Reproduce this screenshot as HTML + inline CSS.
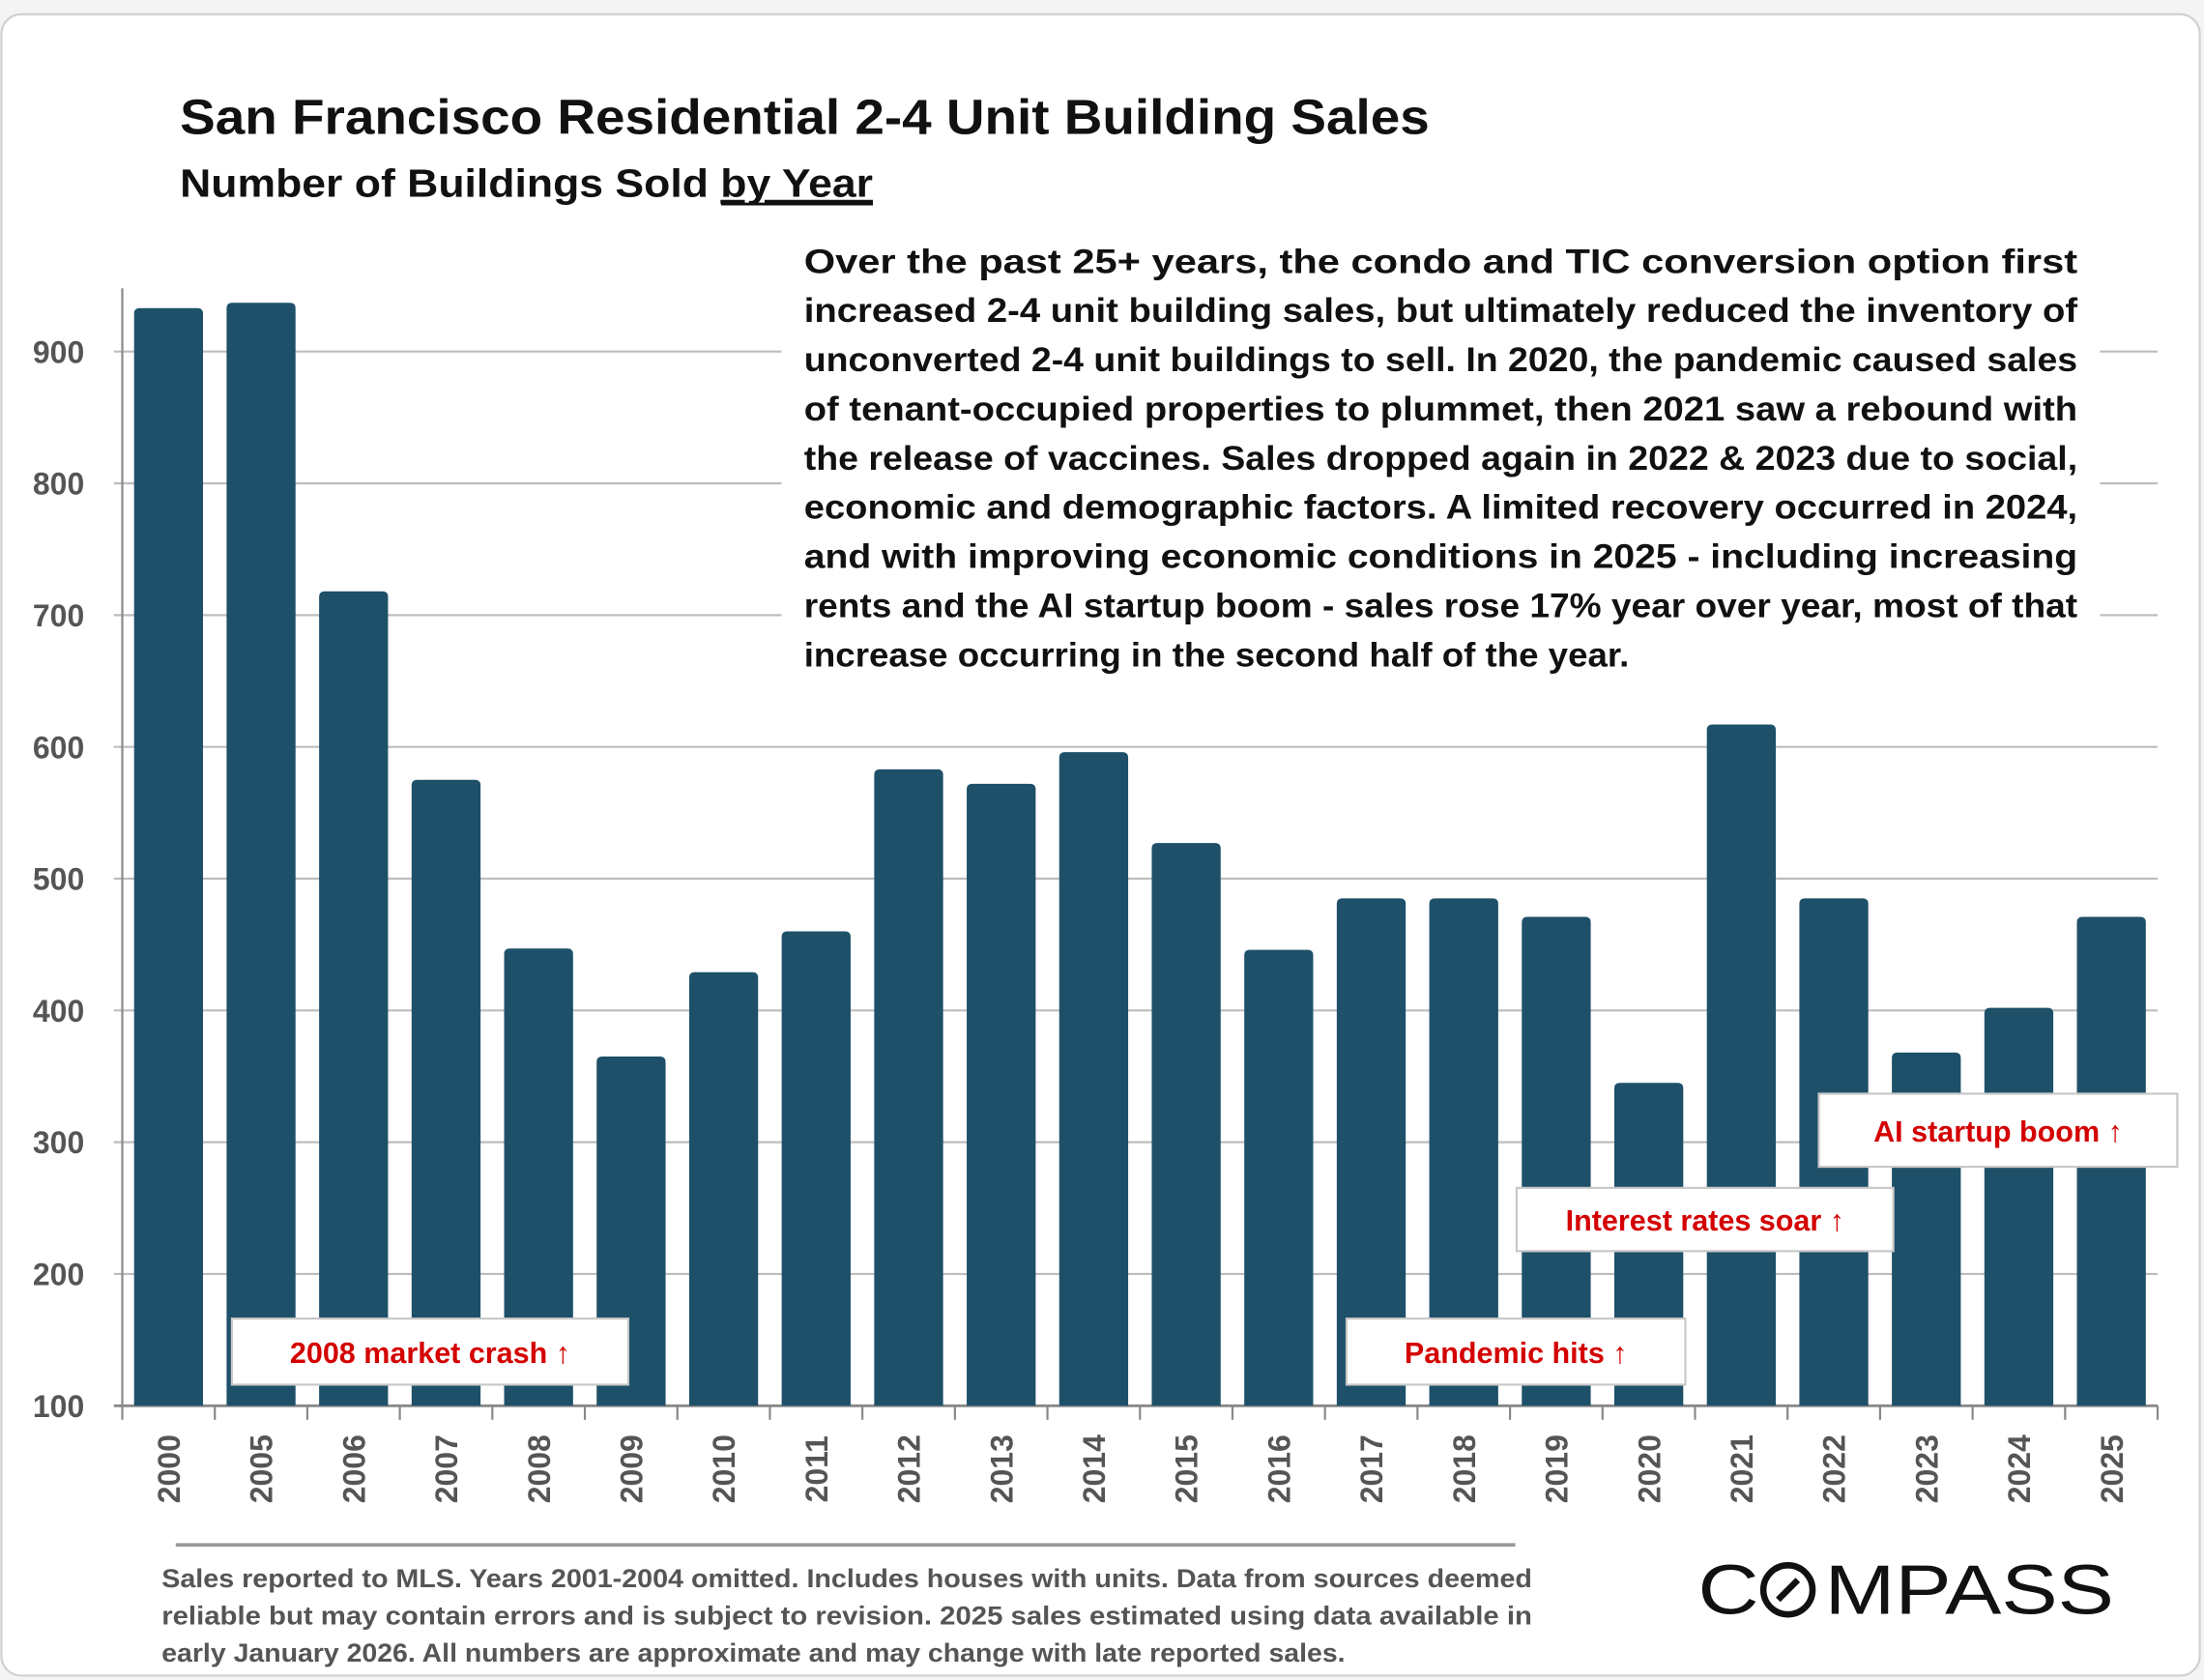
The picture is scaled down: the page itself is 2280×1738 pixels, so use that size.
<!DOCTYPE html>
<html><head><meta charset="utf-8"><style>
html,body{margin:0;padding:0;background:#f4f4f4;}
svg{display:block;}
text{font-family:"Liberation Sans",sans-serif;}
</style></head><body>
<svg id="chart" width="2280" height="1738" viewBox="0 0 1568 1195" xmlns="http://www.w3.org/2000/svg">
<rect x="1" y="10" width="1564" height="1182" rx="14" fill="#fff" stroke="#d0d0d0" stroke-width="1.5"/>
<text x="128" y="95" font-size="35" font-weight="bold" fill="#111" textLength="889" lengthAdjust="spacingAndGlyphs">San Francisco Residential 2-4 Unit Building Sales</text>
<text x="128" y="140" font-size="28" font-weight="bold" fill="#111" textLength="493" lengthAdjust="spacingAndGlyphs">Number of Buildings Sold <tspan text-decoration="underline">by Year</tspan></text>
<line x1="513" y1="145" x2="621" y2="145" stroke="#111" stroke-width="2"/>
<g id="grid"></g>
<g id="bars"></g>
<g id="axes"></g>
<rect x="556" y="168" width="938" height="312" fill="#fff"/>
<g id="desc" font-size="24" font-weight="bold" fill="#111"></g>
<g id="notes"></g>
<line x1="125" y1="1099" x2="1078" y2="1099" stroke="#999" stroke-width="2.5"/>
<g id="foot" font-size="18.5" font-weight="bold" fill="#555"></g>
<g>
<text x="1208" y="1148" font-size="50" fill="#111" textLength="296" lengthAdjust="spacingAndGlyphs">C<tspan fill="#fff">O</tspan>MPASS</text>
<circle cx="1272" cy="1131" r="17.5" fill="none" stroke="#111" stroke-width="4.5"/>
<line x1="1265" y1="1138" x2="1279" y2="1124" stroke="#111" stroke-width="4.5"/>
</g>
</svg>
<script>
const categories = ["2000","2005","2006","2007","2008","2009","2010","2011","2012","2013","2014","2015","2016","2017","2018","2019","2020","2021","2022","2023","2024","2025"];
const sales = [933,937,718,575,447,365,429,460,583,572,596,527,446,485,485,471,345,617,485,368,402,471];
const yTicks = [100,200,300,400,500,600,700,800,900];
const descLines = ["Over the past 25+ years, the condo and TIC conversion option first","increased 2-4 unit building sales, but ultimately reduced the inventory of","unconverted 2-4 unit buildings to sell. In 2020, the pandemic caused sales","of tenant-occupied properties to plummet, then 2021 saw a rebound with","the release of vaccines. Sales dropped again in 2022 & 2023 due to social,","economic and demographic factors. A limited recovery occurred in 2024,","and with improving economic conditions in 2025 - including increasing","rents and the AI startup boom - sales rose 17% year over year, most of that","increase occurring in the second half of the year."];
const footLines = ["Sales reported to MLS. Years 2001-2004 omitted. Includes houses with units. Data from sources deemed","reliable but may contain errors and is subject to revision. 2025 sales estimated using data available in","early January 2026. All numbers are approximate and may change with late reported sales."];
const notes = [
 {label:"2008 market crash \u2191", x:165, y:938, w:282, h:47},
 {label:"Pandemic hits \u2191", x:958, y:938, w:241, h:47},
 {label:"Interest rates soar \u2191", x:1079, y:845, w:268, h:45},
 {label:"AI startup boom \u2191", x:1294, y:778, w:255, h:52}
];
const NS="http://www.w3.org/2000/svg";
const X0=87, X1=1535, Y0=1000, YMIN=100, YMAX=900, YTOP=250;
const band=(X1-X0)/categories.length;
const xs=i=>X0+band*i;
const ys=v=>Y0-(v-YMIN)*(Y0-YTOP)/(YMAX-YMIN);
function mk(tag,attrs,parent){const e=document.createElementNS(NS,tag);for(const k in attrs)e.setAttribute(k,attrs[k]);parent.appendChild(e);return e;}
const grid=document.getElementById('grid'),bars=document.getElementById('bars'),axes=document.getElementById('axes');
yTicks.forEach(t=>{
 const l=mk('line',{x1:X0-6,x2:X1,y1:ys(t),y2:ys(t),stroke:t===YMIN?'#888':'#bdbdbd','stroke-width':t===YMIN?2:1.5},grid);
 
 
 const tx=mk('text',{x:60,y:ys(t)+8,'text-anchor':'end','font-size':22,'font-weight':'bold',fill:'#555'},axes);
 tx.textContent=t;
 
 
});
const ax=mk('line',{x1:X0,x2:X0,y1:205,y2:1010,stroke:'#888','stroke-width':1.5},axes);


categories.forEach((c,i)=>{
 const bw=band*0.745, bx=xs(i)+(band-bw)/2, by=ys(sales[i]), r=4;
 const p=mk('path',{d:`M${bx},${Y0}V${by+r}Q${bx},${by} ${bx+r},${by}H${bx+bw-r}Q${bx+bw},${by} ${bx+bw},${by+r}V${Y0}Z`,fill:'#1e5069'},bars);
 
 
 const tk=mk('line',{x1:xs(i+1),x2:xs(i+1),y1:Y0,y2:1010,stroke:'#888','stroke-width':1.5},axes);
 
 
 const cx=xs(i)+band/2+8;
 const t=mk('text',{x:cx,y:1045,transform:`rotate(-90 ${cx} 1045)`,'text-anchor':'middle','font-size':22,'font-weight':'bold',fill:'#555'},axes);
 t.textContent=c;
 
 
});
const d=document.getElementById('desc');
descLines.forEach((s,i)=>{
 const last=i===descLines.length-1;
 const a={x:572,y:194+i*35,lengthAdjust:'spacingAndGlyphs',textLength:last?587:906};
 const t=mk('text',a,d);t.textContent=s;
});
const nt=document.getElementById('notes');
notes.forEach(n=>{
 const g=mk('g',{},nt);
 
 
 mk('rect',{x:n.x,y:n.y,width:n.w,height:n.h,fill:'#fff',stroke:'#c8c8c8','stroke-width':1.5},g);
 const t=mk('text',{x:n.x+n.w/2,y:n.y+n.h/2+8,'text-anchor':'middle','font-size':21,'font-weight':'bold',fill:'#d40000'},g);
 t.textContent=n.label;
});
const f=document.getElementById('foot');
footLines.forEach((s,i)=>{
 const t=mk('text',{x:115,y:1129+i*26.5,textLength:i<2?975:842,lengthAdjust:'spacingAndGlyphs'},f);t.textContent=s;
});
</script>
</body></html>
